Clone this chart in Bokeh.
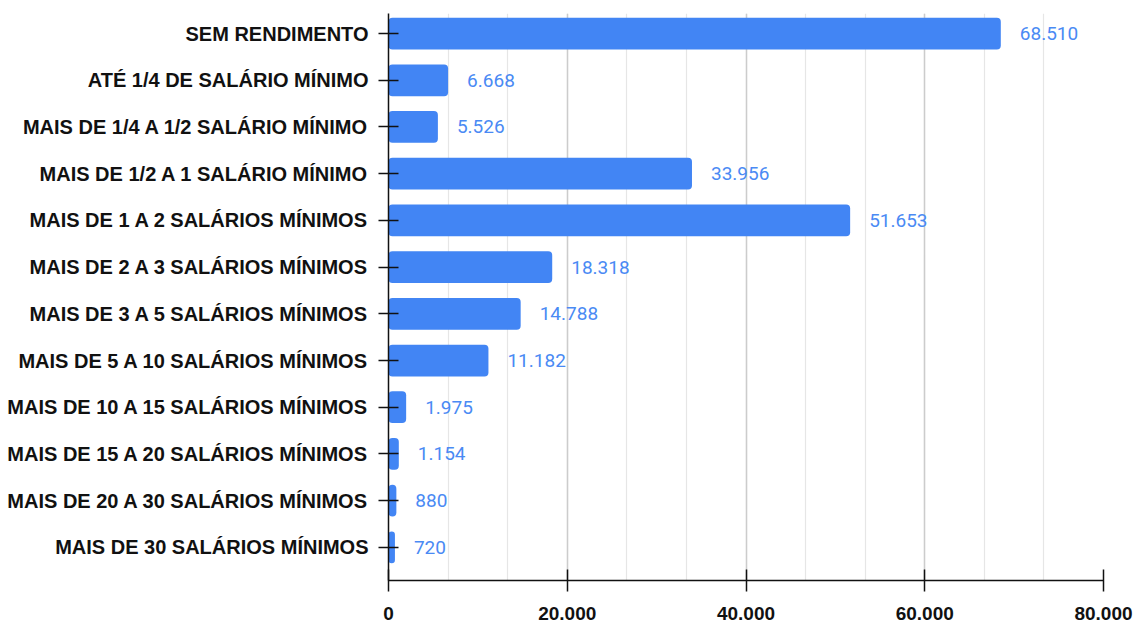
from bokeh.plotting import figure
from bokeh.models import Range1d, FixedTicker, ColumnDataSource
from bokeh.core.properties import value
from bokeh.embed import file_html
from bokeh.resources import INLINE

categories = [
    "SEM RENDIMENTO",
    "ATÉ 1/4 DE SALÁRIO MÍNIMO",
    "MAIS DE 1/4 A 1/2 SALÁRIO MÍNIMO",
    "MAIS DE 1/2 A 1 SALÁRIO MÍNIMO",
    "MAIS DE 1 A 2 SALÁRIOS MÍNIMOS",
    "MAIS DE 2 A 3 SALÁRIOS MÍNIMOS",
    "MAIS DE 3 A 5 SALÁRIOS MÍNIMOS",
    "MAIS DE 5 A 10 SALÁRIOS MÍNIMOS",
    "MAIS DE 10 A 15 SALÁRIOS MÍNIMOS",
    "MAIS DE 15 A 20 SALÁRIOS MÍNIMOS",
    "MAIS DE 20 A 30 SALÁRIOS MÍNIMOS",
    "MAIS DE 30 SALÁRIOS MÍNIMOS",
]
values = [68510, 6668, 5526, 33956, 51653, 18318, 14788, 11182, 1975, 1154, 880, 720]
x_ticks = [0, 20000, 40000, 60000, 80000]
x_tick_labels = ["0", "20.000", "40.000", "60.000", "80.000"]


def fmt(v):
    return f"{v:,}".replace(",", ".")


ypos = list(range(len(categories)))
src = ColumnDataSource(dict(
    y=ypos,
    v=values,
    label=[fmt(v) for v in values],
))

p = figure(
    width=1135, height=640,
    x_range=Range1d(0, 80000),
    y_range=Range1d(len(categories) - 1 + 0.71, -0.43),
    output_backend="svg", toolbar_location=None,
    min_border_left=388, min_border_right=32,
    min_border_top=13, min_border_bottom=60,
)
p.outline_line_color = None
p.background_fill_color = "white"
p.border_fill_color = "white"

p.hbar(y="y", right="v", left=0, height=0.68, source=src,
       fill_color="#4285F4", line_color=None, border_radius=4)

p.text(x="v", y="y", text="label", source=src,
       x_offset=19, text_align="left", text_baseline="middle",
       text_font=value("Roboto"), text_font_size="19px",
       text_color="#4a8af4")

AX_FONT = "Liberation Sans"
AX_COLOR = "#111111"

# x axis
xt = FixedTicker(ticks=x_ticks, minor_ticks=[20000 / 3 * i for i in range(13)])
p.xaxis.ticker = xt
p.xaxis.major_label_overrides = {t: l for t, l in zip(x_ticks, x_tick_labels)}
p.xaxis.major_tick_in = 11
p.xaxis.major_tick_out = 11
p.xaxis.minor_tick_in = 0
p.xaxis.minor_tick_out = 0
p.xaxis.major_label_standoff = 15
p.xaxis.major_label_text_font = AX_FONT
p.xaxis.major_label_text_font_style = "bold"
p.xaxis.major_label_text_font_size = "19px"
p.xaxis.major_label_text_color = AX_COLOR
p.xaxis.axis_line_color = AX_COLOR
p.xaxis.axis_line_width = 1.5
p.xaxis.major_tick_line_color = AX_COLOR
p.xaxis.major_tick_line_width = 1.5

# y axis
p.yaxis.ticker = FixedTicker(ticks=ypos)
p.yaxis.major_label_overrides = {i: c for i, c in zip(ypos, categories)}
p.yaxis.major_tick_in = 10
p.yaxis.major_tick_out = 10
p.yaxis.minor_tick_in = 0
p.yaxis.minor_tick_out = 0
p.yaxis.major_label_standoff = 10
p.yaxis.major_label_text_font = AX_FONT
p.yaxis.major_label_text_font_style = "bold"
p.yaxis.major_label_text_font_size = "20px"
p.yaxis.major_label_text_color = AX_COLOR
p.yaxis.axis_line_color = AX_COLOR
p.yaxis.axis_line_width = 1.5
p.yaxis.major_tick_line_color = AX_COLOR
p.yaxis.major_tick_line_width = 1.5

# grids
p.ygrid.grid_line_color = None
p.xgrid.ticker = xt
p.xgrid.grid_line_color = "#cccccc"
p.xgrid.grid_line_width = 1.5
p.xgrid.minor_grid_line_color = "#e6e6e6"
p.xgrid.minor_grid_line_width = 1.2

open("out.html", "w").write(file_html(p, INLINE))
